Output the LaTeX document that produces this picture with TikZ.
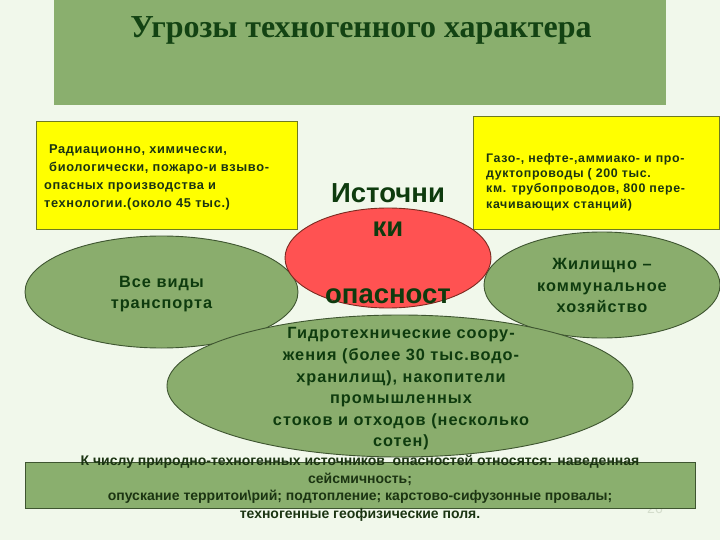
\documentclass[tikz,border=0pt]{standalone}
\usepackage{fontspec}
\setmainfont{Liberation Sans}
\newfontfamily\titlefont{Liberation Serif}
\newfontfamily\spacedfont[LetterSpace=5]{Liberation Sans}
\newfontfamily\widefont[LetterSpace=6]{Liberation Sans}
\usetikzlibrary{shapes.geometric}
\definecolor{bgc}{HTML}{F1F8EB}
\definecolor{boxgreen}{HTML}{8AAF6E}
\definecolor{elgreen}{HTML}{8AAD6D}
\definecolor{elborder}{HTML}{3E5530}
\definecolor{ylw}{HTML}{FFFF00}
\definecolor{ylwborder}{HTML}{6E7A20}
\definecolor{redfill}{HTML}{FF5252}
\definecolor{redborder}{HTML}{7A2A20}
\definecolor{darkgreen}{HTML}{0E3B0E}
\definecolor{titlegreen}{HTML}{134313}
\definecolor{boxtext}{HTML}{1B3412}
\definecolor{pagenum}{HTML}{D4DDCC}
\tikzset{
  ybox/.style={draw=ylwborder, line width=1pt, fill=ylw, inner sep=0pt},
  gell/.style={ellipse, draw=elborder, line width=0.9pt, fill=elgreen, inner sep=0pt},
  ytext/.style={text=boxtext, align=left, inner sep=0pt, anchor=west},
  etext/.style={text=darkgreen, align=center, font=\widefont\bfseries\fontsize{16.3}{21.8}\selectfont, inner sep=0pt},
}
\begin{document}
\begin{tikzpicture}[x=1pt,y=-1pt]
\fill[bgc] (0,0) rectangle (720,540);
\useasboundingbox (0,0) rectangle (720,540);
% title
\node[fill=boxgreen, minimum width=612pt, minimum height=105pt, anchor=north west, inner sep=0pt] (titlebox) at (54,0) {};
\node[text=titlegreen, font=\titlefont\bfseries\fontsize{32}{36}\selectfont, inner sep=0pt] (title) at (361,30) {Угрозы техногенного характера};
% yellow boxes
\node[ybox, minimum width=261pt, minimum height=108pt] (ly) at (167,176) {};
\node[ytext, font=\spacedfont\bfseries\fontsize{12.8}{17.8}\selectfont] (lyt) at (44,177.5) {\hspace{5pt}Радиационно, химически,\\\hspace{5pt}биологически, пожаро-и взыво-\\опасных производства и\\технологии.(около 45 тыс.)};
\node[ybox, minimum width=246pt, minimum height=113pt] (ry) at (596,173.5) {};
\node[ytext, font=\spacedfont\bfseries\fontsize{12.4}{15.2}\selectfont] (ryt) at (486,182) {Газо-, нефте-,аммиако- и про-\\дуктопроводы ( 200 тыс.\\км. трубопроводов, 800 пере-\\качивающих станций)};
% ellipses
\node[gell, minimum width=273pt, minimum height=112pt] (le) at (161.5,292) {};
\node[etext] (let) at (161.5,294) {Все виды\\транспорта};
\node[gell, minimum width=236pt, minimum height=106pt] (re) at (602,285) {};
\node[etext] (ret) at (602,285.5) {Жилищно –\\коммунальное\\хозяйство};
\node[ellipse, draw=redborder, line width=0.9pt, fill=redfill, inner sep=0pt, minimum width=206pt, minimum height=100pt] (red) at (388,258) {};
\node[text=darkgreen, align=center, font=\bfseries\fontsize{27.5}{33.5}\selectfont, inner sep=0pt] (redt) at (388,243.5) {Источни\\ки\\[33.5pt]опасност};
\node[gell, minimum width=466pt, minimum height=142pt] (be) at (400,386) {};
\node[text=darkgreen, align=center, font=\widefont\bfseries\fontsize{16.3}{21.6}\selectfont, inner sep=0pt] (bet) at (401,389) {Гидротехнические соору-\\жения (более 30 тыс.водо-\\хранилищ), накопители\\промышленных\\стоков и отходов (несколько\\сотен)};
% bottom
\node[text=pagenum, font=\fontsize{14}{14}\selectfont, inner sep=0pt] (pn) at (655,509) {26};
\node[draw=elborder, line width=1pt, fill=boxgreen, minimum width=670pt, minimum height=46pt, inner sep=0pt] (bb) at (360,485) {};
\node[text=boxtext, align=center, font=\bfseries\fontsize{14}{17.5}\selectfont, inner sep=0pt] (bbt) at (360,488) {К числу природно-техногенных источников\ \ опасностей относятся: наведенная\\сейсмичность;\\опускание территои\textbackslash рий; подтопление; карстово-сифузонные провалы;\\техногенные геофизические поля.};
\end{tikzpicture}
\end{document}
